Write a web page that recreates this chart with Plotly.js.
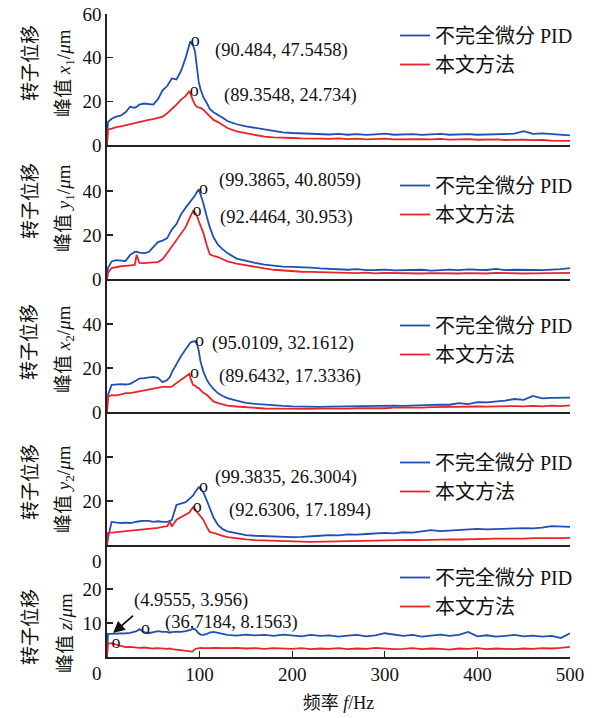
<!DOCTYPE html>
<html>
<head>
<meta charset="utf-8">
<script src="https://cdn.plot.ly/plotly-3.0.1.min.js"></script>
<style>html,body{margin:0;padding:0;background:#fff;}#chart{width:602px;height:718px;}</style>
</head>
<body>
<div id="chart"></div>
<script>
// ---------------- data ----------------
const freq = [0,1, 5,10,15,20,25,30, 32, 35,40,45,50,55,60,65, 68, 70,75,80,85,
  89,90,92,93,95,97,99,101,104,108,111,115,120,125,130,
  140,150,160,170,180,190,200,210,220,230,
  240,250,260,270,280,290,300,310,320,330,340,350,360,370,380,390,400,410,420,430,440,450,460,470,480,490,500];

const seriesNames = ['不完全微分 PID', '本文方法'];

const x1PID = [0,10.5, 12,13,13.5,15,17.5,17, 17.5, 18.5,19,18.8,18.5,21,25,27, 29.5, 30.5,30,34,40,
  46,47.5458,46,45.5,43,36,29,25.5,22,19,16.5,15,13.8,12.5,11,
  9.5,8.5,8,7.2,6.5,5.8,5.5,5.3,5.2,4.9,
  4.8,5.1,4.7,5.0,4.6,4.9,5.2,4.7,4.8,5.0,4.6,4.8,5.1,4.7,4.9,5.0,4.7,4.8,5.1,4.9,5.2,6.3,5.1,5.3,4.9,4.6,4.4];
const x1Ours = [0,7, 7.5,8.2,8.5,9,9.8,10, 10.2, 10.5,11,11.5,11.8,12.3,13,14.5, 15.5, 16.5,18.5,20.8,22.5,
  24.734,23.5,21,20.3,18.5,17.5,17.2,17,16.2,14.5,13.5,11.5,10.5,9,7.8,
  6.2,5.5,4.8,3.8,3.5,3.2,3.2,3.0,3.1,2.9,
  2.8,3.0,2.7,2.9,2.6,2.8,2.9,2.6,2.7,2.5,2.7,2.6,2.8,2.5,2.6,2.7,2.4,2.5,2.6,2.3,2.5,2.4,2.2,2.3,2.0,2.1,1.9];

const y1PID = [0,5, 8,8.6,8.4,8.2,11,12.3, 12.4, 12,11.8,12.2,14.5,16.8,17.5,18.6, 21, 22.5,25,29.5,32.5,
  34.5,35,36,36.8,38,39.5,40.8059,38.5,34.5,28,23.6,19,15.5,13.5,11.8,
  9.3,8.2,7.3,6.5,6,5.6,5.5,5.4,5.2,4.8,
  4.6,4.4,4.2,4.5,4.0,4.1,4.3,3.9,4.0,4.1,4.2,3.8,4.1,4.3,4.0,4.4,4.2,4.1,4.6,4.0,4.2,4.3,4.1,4.0,4.2,4.5,5.0];
const y1Ours = [0,2.7, 5,5.5,5.8,6,6.3,6.4, 11, 7.3,7.2,7.5,7.6,7.7,9,11.8, 13.5, 15,17.7,20.5,23.6,
  27.5,28.3,30,30.953,30.2,29,26.5,24.5,21,15,11.2,10.5,10,9,8,
  7,6.2,5.5,4.8,4.2,3.8,3.5,3.3,3.2,3.1,
  3.0,2.8,2.9,2.7,2.9,2.6,2.8,2.7,2.6,2.8,2.5,2.7,2.6,2.8,2.5,2.7,2.6,2.5,2.8,2.6,2.7,2.5,2.6,2.7,2.5,2.6,2.8];

const x2PID = [0,7.7, 12.3,12.5,12.7,12.5,12.8,14, 14.5, 15.2,15.4,15.8,16,15.5,13.6,14.5, 16, 18,22,25.5,28.5,
  31,31.5,32,32.1,32.1612,31.4,28,23,18.5,14.5,12.5,10.5,8.5,7.3,6.3,
  5.2,4.2,3.7,3.3,3.0,2.8,2.6,2.4,2.5,2.3,
  2.4,2.5,2.3,2.6,2.5,2.7,2.7,2.9,2.8,3.0,2.9,3.2,3.4,3.3,4.0,3.6,4.5,4.4,4.7,5.2,5.9,5.5,7.3,6.2,6.4,6.3,6.5];
const x2Ours = [0,6.8, 7.7,7.6,8,8.6,8.6,9, 9.2, 9.5,10,10.3,10.8,11.2,11.4,11.4, 11.3, 11.6,13.2,14.8,16.2,
  17.3336,15.5,13.5,12.3,12,11.2,10.9,10,8.7,7.7,6.5,4.8,4,3.4,2.9,
  2.5,2.1,1.8,1.6,1.5,1.4,1.4,1.3,1.4,1.5,
  1.4,1.6,1.5,1.7,1.6,1.8,1.7,2.0,1.9,2.1,2.0,2.2,2.3,2.1,2.4,2.3,2.5,2.4,2.6,2.5,2.7,2.6,2.8,2.6,2.9,2.7,3.0];

const y2PID = [0,3.2, 10.5,10.3,10,10.2,10,10.4, 10.6, 10.8,11,11,10.5,10.8,10.5,10.5, 11, 11.4,18.2,19,19.5,
  21,21.3,21.8,22.5,24,25.3,26.3004,25.6,24,20,16.8,12.5,9,7.2,6.2,
  5.2,4.5,4.2,4,3.8,3.6,3.6,3.7,3.8,4.2,
  4.5,4.4,4.8,4.7,5.0,5.2,5.5,5.3,5.8,5.6,6.1,6.8,6.3,6.6,6.9,7.0,7.3,7.1,7.3,7.5,7.4,7.7,7.6,7.9,8.6,8.3,8.2];
const y2Ours = [0,5.5, 5.6,5.8,6,6.2,6.4,6.5, 6.6, 6.8,7,7.2,7.5,7.8,8.2,8.6, 10.5, 8.4,11.5,12.7,14,
  14.8,15.5,16.5,17.1894,16.2,15.2,14.5,13.5,11.5,8,5.9,5.5,4.7,4.2,3.6,
  3,2.6,2.2,2,1.8,1.7,1.6,1.5,1.4,1.5,
  1.5,1.6,1.7,1.8,1.9,2.0,2.1,2.0,2.2,2.3,2.2,2.4,2.5,2.6,2.5,2.7,2.7,2.8,2.9,2.8,3.0,2.9,3.1,3.0,3.2,3.1,3.2];

const zPID = [0,6.8, 6.8,6.8,6.9,7,7.1,7.4, 7.6, 8.2,7.3,7,7.2,7.6,7.4,7.4, 7.1, 7.3,7.5,7.4,7.6,
  7.8,8,8.2,8.3,8.2,7.5,7,6.6,6.5,6.8,7.2,7.4,7,6.8,6.5,
  6.3,6.6,6.4,6.5,6.2,6.6,6.3,6.1,6.5,6.2,
  6.4,6.0,6.3,6.5,6.1,6.4,7.0,6.5,6.2,6.5,6.0,6.3,6.6,6.2,6.5,7.4,6.1,6.4,6.0,6.2,6.5,6.1,6.3,6.0,6.2,5.6,7.0];
const zOurs = [0,4, 4,3.6,3.2,2.9,3.0,2.8, 2.9, 2.7,2.8,2.6,2.5,2.6,2.4,2.4, 2.5, 2.3,2.2,2.0,1.7,
  1.6,1.5,1.6,1.8,2.3,2.5,2.6,2.7,2.6,2.5,2.6,2.7,2.6,2.5,2.6,
  2.7,2.5,2.6,2.4,2.6,2.5,2.4,2.6,2.3,2.5,
  2.4,2.6,2.3,2.5,2.4,2.7,2.5,2.3,2.4,2.6,2.3,2.5,2.4,2.2,2.5,2.4,2.6,2.3,2.5,2.4,2.3,2.5,2.4,2.6,2.5,2.7,3.0];

// peak markers (frequency, amplitude)
const peakFreqX1 = [90.484, 89.3548],  peakAmpX1 = [47.5458, 24.734];
const peakFreqY1 = [99.3865, 92.4464], peakAmpY1 = [40.8059, 30.953];
const peakFreqX2 = [95.0109, 89.6432], peakAmpX2 = [32.1612, 17.3336];
const peakFreqY2 = [99.3835, 92.6306], peakAmpY2 = [26.3004, 17.1894];
const peakFreqZ  = [4.9555, 36.7184],  peakAmpZ  = [3.956, 8.1563];

const yTitleLine1 = '转子位移';
const yTitleLine2 = ['峰值 <i>x</i><sub>1</sub>/<i>μ</i>m', '峰值 <i>y</i><sub>1</sub>/<i>μ</i>m',
                     '峰值 <i>x</i><sub>2</sub>/<i>μ</i>m', '峰值 <i>y</i><sub>2</sub>/<i>μ</i>m',
                     '峰值 <i>z</i>/<i>μ</i>m'];
const xTitle = '频率 <i>f</i>/Hz';
const xTickVals = [100, 200, 300, 400, 500];
const yTickVals = [[0,20,40,60],[0,20,40],[0,20,40],[20,40],[10,20]];

// ---------------- build ----------------
const panels = [
  {pid: x1PID, ours: x1Ours, pf: peakFreqX1, pa: peakAmpX1},
  {pid: y1PID, ours: y1Ours, pf: peakFreqY1, pa: peakAmpY1},
  {pid: x2PID, ours: x2Ours, pf: peakFreqX2, pa: peakAmpX2},
  {pid: y2PID, ours: y2Ours, pf: peakFreqY2, pa: peakAmpY2},
  {pid: zPID,  ours: zOurs,  pf: peakFreqZ,  pa: peakAmpZ}
];
panels.forEach((p, i) => {
  if (p.pid.length !== freq.length || p.ours.length !== freq.length)
    throw new Error('length mismatch panel ' + (i+1) + ': ' + p.pid.length + ' / ' + p.ours.length + ' vs ' + freq.length);
});

const FONT = "'Liberation Serif', 'Noto Sans CJK SC', serif";
const BLUE = '#1f4fb4', RED = '#e8232a', AX = '#222222';

// layout geometry (pixels of the plot area: top 14, bottom 657)
const H = 643;
const panelPx = [[14,145],[145,279],[279,412],[412,545],[545,657]];
const yRanges = [[0,60],[0,61],[0,60.5],[0,60.5],[0,33]];
const toPaperY = py => (657 - py) / H;
const toPaperX = px => (px - 107) / 463;

const legendTopPx = [16, 166, 306, 443, 558];
const titleCenters = [[63,73],[201,208],[342,349],[482,489],[627,633]];
const labelShift = [[[22,-9],[32,-4]], [[18,9],[25,-6]], [[15,-2],[27,-3]], [[14,10],[34,-3]], [[20,43],[22,7]]];

const traces = [];
const annotations = [];
const layout = {
  width: 602, height: 718,
  margin: {l: 107, r: 32, t: 14, b: 61, pad: 0},
  paper_bgcolor: '#ffffff', plot_bgcolor: 'rgba(0,0,0,0)',
  font: {family: FONT, size: 18, color: '#111'},
  showlegend: true
};

panels.forEach((p, i) => {
  const n = i + 1;
  const xa = 'x' + (n === 1 ? '' : n), ya = 'y' + (n === 1 ? '' : n);
  const legendId = 'legend' + (n === 1 ? '' : n);
  traces.push({x: freq, y: p.pid, xaxis: xa, yaxis: ya, type: 'scatter', mode: 'lines',
    name: seriesNames[0], legend: legendId, line: {color: BLUE, width: 1.8}});
  traces.push({x: freq, y: p.ours, xaxis: xa, yaxis: ya, type: 'scatter', mode: 'lines',
    name: seriesNames[1], legend: legendId, line: {color: RED, width: 1.8}});
  traces.push({x: p.pf, y: p.pa, xaxis: xa, yaxis: ya, type: 'scatter', mode: 'text',
    text: ['o','o'], textposition: 'middle right', showlegend: false, cliponaxis: false,
    textfont: {family: FONT, size: 18, color: '#111'}, hoverinfo: 'skip'});

  const dom = [toPaperY(panelPx[i][1]), toPaperY(panelPx[i][0])];
  const xaxis = {
    domain: [0, 1], range: [0, 500], anchor: ya,
    showline: true, linecolor: AX, linewidth: 1.6, showgrid: false, zeroline: false,
    ticks: n === 5 ? 'inside' : '', ticklen: 6, tickwidth: 1.3, tickcolor: AX,
    tickvals: xTickVals, showticklabels: n === 5,
    tickfont: {family: FONT, size: 19, color: '#111'}
  };
  if (n > 1) xaxis.matches = 'x';
  if (n === 5) xaxis.title = {text: xTitle, font: {family: FONT, size: 18, color: '#111'}, standoff: 12};
  layout['xaxis' + (n === 1 ? '' : n)] = xaxis;
  layout['yaxis' + (n === 1 ? '' : n)] = {
    domain: dom, range: yRanges[i], anchor: xa,
    showline: true, linecolor: AX, linewidth: 1.6, showgrid: false, zeroline: false,
    ticks: 'inside', ticklen: 6, tickwidth: 1.3, tickcolor: AX,
    tickvals: yTickVals[i], tickfont: {family: FONT, size: 19, color: '#111'}
  };
  layout[legendId] = {
    x: toPaperX(395), xanchor: 'left', y: toPaperY(legendTopPx[i]), yanchor: 'top',
    bgcolor: 'rgba(0,0,0,0)', borderwidth: 0,
    font: {family: FONT, size: 20, color: '#111'}
  };

  // y-axis titles (two lines, separately placed)
  annotations.push({xref: 'paper', yref: 'paper', x: toPaperX(30), y: toPaperY(titleCenters[i][0]),
    text: yTitleLine1, textangle: -90, showarrow: false, xanchor: 'center', yanchor: 'middle',
    font: {family: FONT, size: 19, color: '#111'}});
  annotations.push({xref: 'paper', yref: 'paper', x: toPaperX(65), y: toPaperY(titleCenters[i][1]),
    text: yTitleLine2[i], textangle: -90, showarrow: false, xanchor: 'center', yanchor: 'middle',
    font: {family: FONT, size: 19, color: '#111'}});

  // peak value labels
  p.pf.forEach((f, k) => {
    annotations.push({xref: xa, yref: ya, x: f, y: p.pa[k],
      text: '(' + f + ', ' + p.pa[k] + ')', showarrow: false, xanchor: 'left', yanchor: 'middle',
      xshift: labelShift[i][k][0], yshift: labelShift[i][k][1],
      font: {family: FONT, size: 18.5, color: '#111'}});
  });
});

// arrow pointing at the first z peak
annotations.push({xref: 'x5', yref: 'y5', x: peakFreqZ[0], y: peakAmpZ[0], xshift: 1.5, yshift: 10.5,
  text: ' ', showarrow: true, arrowhead: 2, arrowsize: 1.3, arrowwidth: 1.8, arrowcolor: '#111',
  ax: 24, ay: -21, axref: 'pixel', ayref: 'pixel'});

// shifted "0" labels under panels 4 and 5
annotations.push({xref: 'paper', yref: 'paper', x: toPaperX(104), y: toPaperY(561), text: '0',
  showarrow: false, xanchor: 'right', yanchor: 'middle', font: {family: FONT, size: 19, color: '#111'}});
annotations.push({xref: 'paper', yref: 'paper', x: toPaperX(104), y: toPaperY(673), text: '0',
  showarrow: false, xanchor: 'right', yanchor: 'middle', font: {family: FONT, size: 19, color: '#111'}});

layout.annotations = annotations;

Plotly.newPlot('chart', traces, layout, {staticPlot: true, displayModeBar: false});
</script>
</body>
</html>
